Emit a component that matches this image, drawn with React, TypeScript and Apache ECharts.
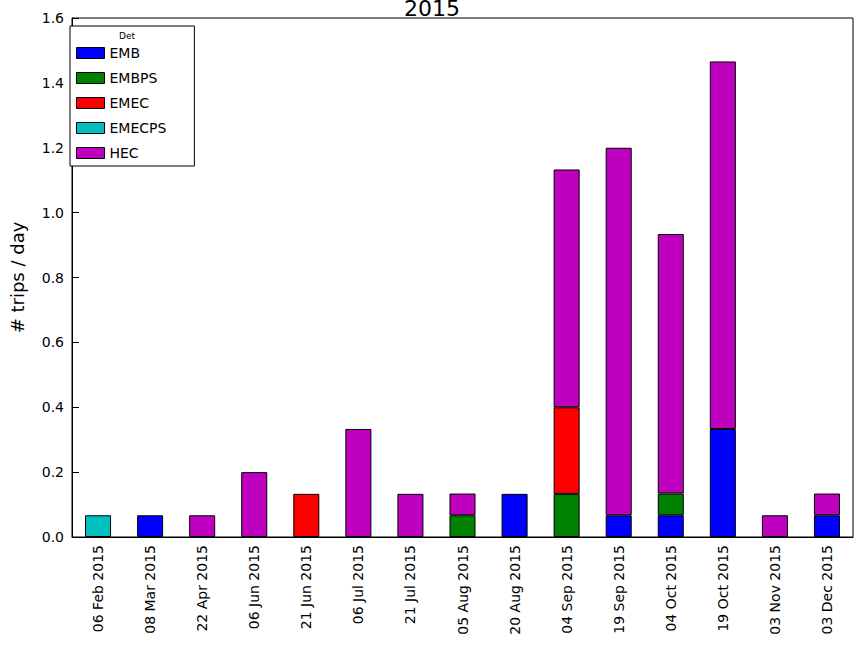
import React, { useEffect, useRef } from 'react';
import * as echarts from 'echarts';

const dates = [
  '06 Feb 2015', '08 Mar 2015', '22 Apr 2015', '06 Jun 2015', '21 Jun 2015',
  '06 Jul 2015', '21 Jul 2015', '05 Aug 2015', '20 Aug 2015', '04 Sep 2015',
  '19 Sep 2015', '04 Oct 2015', '19 Oct 2015', '03 Nov 2015', '03 Dec 2015',
];
const emb = [0, 0.067, 0, 0, 0, 0, 0, 0, 0.133, 0, 0.067, 0.067, 0.333, 0, 0.067];
const embps = [0, 0, 0, 0, 0, 0, 0, 0.067, 0, 0.133, 0, 0.067, 0, 0, 0];
const emec = [0, 0, 0, 0, 0.133, 0, 0, 0, 0, 0.267, 0, 0, 0, 0, 0];
const emecps = [0.067, 0, 0, 0, 0, 0, 0, 0, 0, 0, 0, 0, 0, 0, 0];
const hec = [0, 0, 0.067, 0.2, 0, 0.333, 0.133, 0.067, 0, 0.733, 1.133, 0.8, 1.133, 0.067, 0.067];

const seriesDefs = [
  { name: 'EMB', data: emb, color: '#0000ff' },
  { name: 'EMBPS', data: embps, color: '#008000' },
  { name: 'EMEC', data: emec, color: '#ff0000' },
  { name: 'EMECPS', data: emecps, color: '#00bfbf' },
  { name: 'HEC', data: hec, color: '#bf00bf' },
];

const font = 'DejaVu Sans';

export default function App() {
  const ref = useRef<HTMLDivElement>(null);

  useEffect(() => {
    document.body.style.margin = '0';
    if (!ref.current) return;
    const chart = echarts.init(ref.current, undefined, { renderer: 'svg' });
    chart.setOption({
      animation: false,
      textStyle: { fontFamily: font },
      title: {
        text: '2015', left: 'center', top: -8,
        textStyle: { fontFamily: font, fontSize: 22, fontWeight: 'normal', color: '#000' },
      },
      grid: { left: 70, right: 11, top: 18, bottom: 111, show: true, borderColor: '#000', borderWidth: 1 },
      legend: {
        orient: 'vertical', left: 70, top: 26,
        padding: [20, 28, 6, 6],
        itemWidth: 28, itemHeight: 11, itemGap: 11,
        icon: 'rect',
        borderColor: '#000', borderWidth: 1, borderRadius: 0, backgroundColor: '#fff',
        textStyle: { fontFamily: font, fontSize: 14, color: '#000' },
        itemStyle: { borderColor: '#000', borderWidth: 1 },
        data: seriesDefs.map(s => s.name),
      },
      graphic: [{
        type: 'text', left: 119, top: 31, z: 100,
        style: { text: 'Det', fontFamily: font, fontSize: 9, fill: '#000' },
      }],
      xAxis: {
        type: 'category', data: dates,
        axisLine: { lineStyle: { color: '#000' } },
        axisTick: { inside: true, alignWithLabel: true, length: 5, lineStyle: { color: '#000' } },
        axisLabel: { rotate: 90, color: '#000', fontSize: 14, fontFamily: font, interval: 0, margin: 8 },
      },
      yAxis: {
        type: 'value', min: 0, max: 1.6, interval: 0.2,
        name: '# trips / day', nameLocation: 'middle', nameGap: 46,
        nameTextStyle: { fontSize: 18, color: '#000', fontFamily: font },
        axisLine: { show: true, lineStyle: { color: '#000' } },
        axisTick: { show: true, inside: true, length: 7, lineStyle: { color: '#000' } },
        axisLabel: { color: '#000', fontSize: 14, fontFamily: font, formatter: (v: number) => v.toFixed(1) },
        splitLine: { show: false },
      },
      series: seriesDefs.map(s => ({
        name: s.name, type: 'bar', stack: 'total', barWidth: '50%',
        data: s.data.map(v => (v === 0 ? '-' : v)),
        itemStyle: { color: s.color, borderColor: '#000', borderWidth: 1 },
      })),
    });
    return () => chart.dispose();
  }, []);

  return <div ref={ref} style={{ width: 864, height: 648 }} />;
}
